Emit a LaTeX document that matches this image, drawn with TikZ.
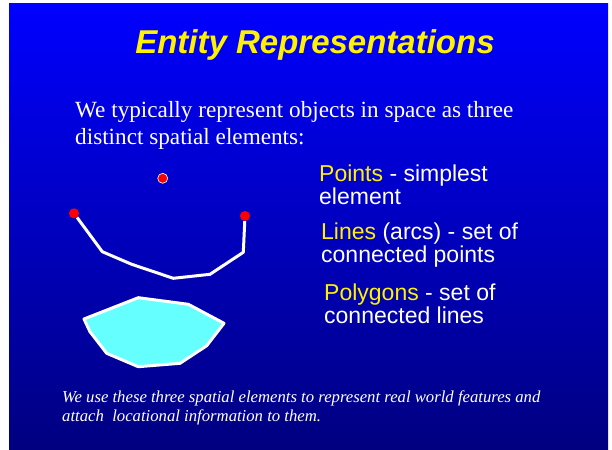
\documentclass[tikz,border=0pt]{standalone}
\usepackage{fontspec}
\setmainfont{Liberation Serif}
\setsansfont{Liberation Sans}
\usepackage{xcolor}
\usepackage{tikz}
\usetikzlibrary{positioning}
\definecolor{slidetop}{RGB}{0,0,255}
\definecolor{slidebot}{RGB}{0,0,128}
\definecolor{polycyan}{RGB}{102,255,255}

\begin{document}
\begin{tikzpicture}[x=1pt,y=-1pt,
heading/.style={font=\sffamily\bfseries\itshape\fontsize{33}{36}\selectfont,text=yellow,inner sep=0pt},
body/.style={font=\fontsize{23.2}{27}\selectfont,text=white,align=left,inner sep=0pt},
item/.style={font=\sffamily\fontsize{23}{21}\selectfont,text=white,align=left,inner sep=0pt},
note/.style={font=\itshape\fontsize{16.7}{19}\selectfont,text=white,align=left,inner sep=0pt},
dot/.style={circle,fill=red,inner sep=0pt,minimum size=10pt},
edge/.style={draw=white,line width=3pt,line join=round}]
\useasboundingbox (0,0) rectangle (612,449);
\fill[white] (0,0) rectangle (612,449);
\shade[top color=slidetop,bottom color=slidebot] (9,4) rectangle (608,449);

\node[heading,anchor=base] (title) at (315,54) {Entity Representations};
\node[body,anchor=base west] (intro) at (75,145) {We typically represent objects in space as three\\distinct spatial elements:};

% the three kinds of element
\node[item,anchor=base west] (points) at (319,204) {\textcolor{yellow}{Points} - simplest\\element};
\node[item,anchor=base west] (lines) at (321,262) {\textcolor{yellow}{Lines} (arcs) - set of\\connected points};
\node[item,anchor=base west] (polys) at (324,323) {\textcolor{yellow}{Polygons} - set of\\connected lines};

% point
\node[dot,draw=white,line width=0.6pt] (pt) at (162.7,178.3) {};

% line (arc)
\node[dot] (a) at (74,213.3) {};
\node[dot] (b) at (245,216) {};
\coordinate (a1) at (102.3,251.7);
\coordinate (a2) at (131.7,264.3);
\coordinate (a3) at (173.3,278.3);
\coordinate (a4) at (210,274.3);
\coordinate (a5) at (243.3,252.3);
\draw[edge] (a) -- (a1) -- (a2) -- (a3) -- (a4) -- (a5) -- (b);

% polygon
\coordinate (p1) at (84,319);
\coordinate (p2) at (138.3,297.7);
\coordinate (p3) at (188.3,304.3);
\coordinate (p4) at (224,323.3);
\coordinate (p5) at (206.7,345.7);
\coordinate (p6) at (180,363.3);
\coordinate (p7) at (138.3,366.7);
\coordinate (p8) at (106.7,353.3);
\coordinate (p9) at (90,331.7);
\draw[edge,fill=polycyan] (p1) -- (p2) -- (p3) -- (p4) -- (p5) -- (p6) -- (p7) -- (p8) -- (p9) -- cycle;

\node[note,anchor=base west] (note) at (62,421) {We use these three spatial elements to represent real world features and\\attach\ \ locational information to them.};
\end{tikzpicture}
\end{document}
